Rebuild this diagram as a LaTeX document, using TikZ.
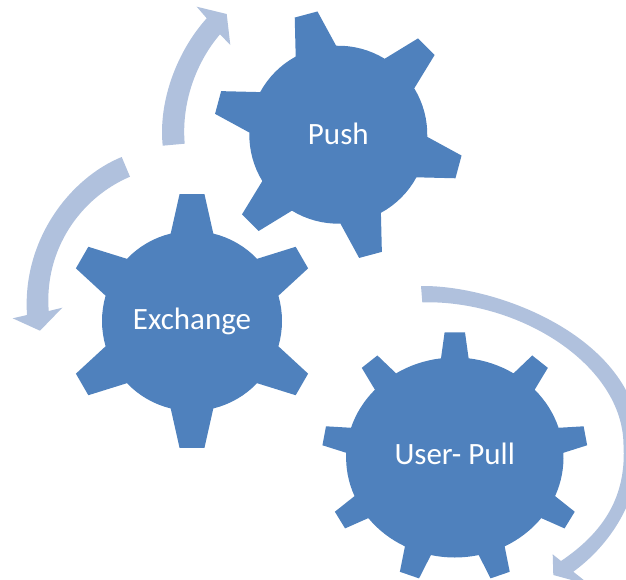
\documentclass[tikz,border=0pt]{standalone}
\usepackage{fontspec}
\setmainfont{Carlito}
\definecolor{gearblue}{HTML}{4F81BD}
\definecolor{arrowblue}{HTML}{B0C1DD}
\tikzset{
  x=1pt,y=-1pt,
  geartext/.style={text=white,font=\fontsize{31}{35}\selectfont,inner sep=0pt,anchor=base},
  cyclearrow/.style={fill=arrowblue,draw=none}
}
% #1 cx, #2 cy, #3 body rx, #4 body ry, #5 tip rx, #6 tip ry, #7 teeth, #8 first angle, #9 base half angle; \tiphalf tip half angle
\newcommand{\gearshape}[9]{%
  \pgfmathsetmacro{\stepang}{360/#7}%
  \pgfmathsetmacro{\lastang}{#7-1}%
  \path[fill=gearblue] ({#1+#3*cos(#8-#9)},{#2-#4*sin(#8-#9)})
  \foreach \k in {0,...,\lastang}{%
    \pgfextra{\pgfmathsetmacro{\ta}{#8-\k*\stepang}}%
    -- ({#1+#3*cos(\ta+#9)},{#2-#4*sin(\ta+#9)})
    -- ({#1+#5*cos(\ta+\tiphalf)},{#2-#6*sin(\ta+\tiphalf)})
    -- ({#1+#5*cos(\ta-\tiphalf)},{#2-#6*sin(\ta-\tiphalf)})
    -- ({#1+#3*cos(\ta-#9)},{#2-#4*sin(\ta-#9)})
    \foreach \s in {1,...,8}{%
      \pgfextra{\pgfmathsetmacro{\tb}{\ta-#9-\s*(\stepang-2*#9)/8}}%
      -- ({#1+#3*cos(\tb)},{#2-#4*sin(\tb)})
    }
  } -- cycle;%
}
\begin{document}
\begin{tikzpicture}
\useasboundingbox (0,0) rectangle (626,579);
\clip (0,0) rectangle (626,579);
\def\tiphalf{5.6}
\gearshape{192}{321}{90}{90}{127.5}{127.5}{6}{90}{13.7}
\def\tiphalf{5.4}
\gearshape{338.3}{134.7}{89}{89}{125}{125}{6}{105}{13.6}
\def\tiphalf{4.4}
\gearshape{454.8}{457.5}{108.7}{100}{133}{125.5}{9}{90}{7.3}
\node[geartext] (push) at (338.3,144) {Push};
\node[geartext] (exchange) at (192,329.5) {Exchange};
\node[geartext] (userpull) at (454.7,464) {User- Pull};
\fill[cyclearrow] (162.7,145.7) .. controls (158,100) and (178,50) .. (206.7,18.3)
  -- (196.7,6.7) -- (226.7,14) -- (230.3,45) -- (220,34.3)
  .. controls (198,60) and (181,100) .. (184.7,143.7) -- cycle;
\fill[cyclearrow] (121.7,157) .. controls (70,178) and (22,240) .. (27,315)
  -- (12.7,318.3) -- (40,330.7) -- (62.3,307.7) -- (48.7,311)
  .. controls (44,250) and (80,198) .. (130,176.7) -- cycle;
\fill[cyclearrow] (421,286) .. controls (500,285) and (640,340) .. (640,445)
  .. controls (640,500) and (610,545) .. (573.3,571.7)
  -- (590,585) -- (553.3,575) -- (552.7,554.3) -- (561,561)
  .. controls (610,528) and (626,490) .. (623.5,445)
  .. controls (623,365) and (520,300) .. (422.3,302.3) -- cycle;
\end{tikzpicture}
\end{document}
